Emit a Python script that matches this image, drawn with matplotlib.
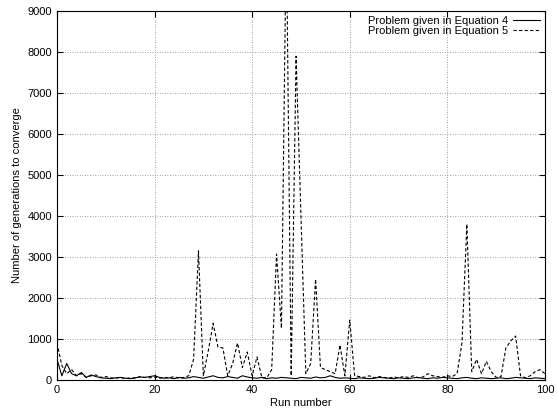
import numpy as np
import matplotlib
matplotlib.use("Agg")
import matplotlib.pyplot as plt

plt.rcParams['font.family'] = ['Liberation Sans', 'DejaVu Sans']

# run numbers 0..100
runs = list(range(101))

# Problem given in Equation 4 (solid)
eq4 = [500, 100, 400, 150, 100, 180, 60, 120, 80, 50,
       40, 30, 50, 60, 40, 30, 50, 70, 60, 80,
       100, 60, 40, 50, 30, 60, 40, 50, 80, 60,
       40, 70, 100, 60, 50, 80, 60, 40, 100, 70,
       50, 40, 60, 30, 50, 40, 60, 50, 40, 30,
       60, 50, 40, 70, 50, 60, 100, 60, 40, 50,
       40, 30, 50, 40, 30, 40, 60, 50, 40, 30,
       50, 40, 30, 50, 60, 40, 30, 50, 40, 60,
       50, 40, 30, 50, 60, 40, 30, 50, 40, 30,
       40, 50, 30, 40, 60, 50, 40, 30, 50, 40, 30]

# Problem given in Equation 5 (dashed)
eq5 = [900, 350, 150, 250, 100, 150, 60, 100, 120, 60,
       80, 50, 40, 60, 30, 50, 40, 80, 60, 50,
       70, 40, 60, 50, 80, 40, 60, 100, 500, 3150,
       100, 700, 1380, 800, 780, 100, 400, 900, 300, 680,
       100, 560, 50, 50, 250, 3070, 1260, 11000, 100, 7900,
       4000, 150, 400, 2460, 300, 250, 200, 150, 850, 100,
       1460, 100, 80, 60, 100, 50, 80, 60, 40, 70,
       50, 80, 60, 100, 50, 70, 150, 100, 80, 60,
       100, 80, 150, 900, 3800, 200, 500, 150, 450, 200,
       60, 80, 780, 950, 1070, 100, 50, 100, 200, 250, 150]

fig = plt.figure(figsize=(5.57, 4.12), dpi=100)
ax = fig.add_axes([0.1023, 0.078, 0.876, 0.895])

ax.plot(runs, eq4, color='black', lw=0.8, label='Problem given in Equation 4')
ax.plot(runs, eq5, color='black', lw=0.8, linestyle=(0, (3, 2)),
        label='Problem given in Equation 5')

ax.set_xlim(0, 100)
ax.set_ylim(0, 9000)
ax.set_xticks(range(0, 101, 20))
ax.set_yticks(range(0, 9001, 1000))
ax.tick_params(direction='in', top=True, right=True, labelsize=8, length=4)
ax.grid(True, color='gray', linestyle=(0, (1, 2)), linewidth=0.6)
ax.set_xlabel('Run number', fontsize=8, labelpad=2)
ax.set_ylabel('Number of generations to converge', fontsize=8, labelpad=4)

leg = ax.legend(loc='upper right', frameon=False, fontsize=8, markerfirst=False,
                handlelength=2.5, handletextpad=0.4, labelspacing=0.05,
                borderaxespad=0.2, borderpad=0.2)

fig.savefig('out.png', dpi=100)
